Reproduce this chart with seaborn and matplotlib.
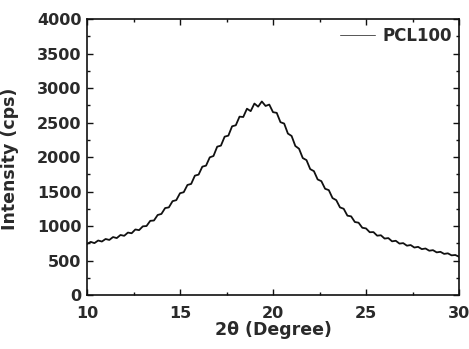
import numpy as np
import pandas as pd
import matplotlib
matplotlib.use("Agg")
import matplotlib.pyplot as plt
import seaborn as sns
from matplotlib.ticker import MultipleLocator

# --- data ---
two_theta = np.round(np.linspace(10.0, 30.0, 101), 1)
intensity = [
    740, 770, 752, 790, 775, 812, 798, 840, 825, 870,
    858, 905, 895, 950, 940, 995, 1000, 1075, 1080, 1160,
    1175, 1260, 1270, 1360, 1375, 1475, 1490, 1595, 1610, 1730,
    1745, 1860, 1875, 1995, 2015, 2150, 2165, 2295, 2310, 2445,
    2460, 2585, 2580, 2700, 2665, 2775, 2730, 2805, 2740, 2760,
    2650, 2640, 2505, 2485, 2340, 2305, 2160, 2120, 1985, 1955,
    1825, 1795, 1675, 1650, 1540, 1520, 1405, 1375, 1270, 1250,
    1150, 1140, 1058, 1048, 975, 965, 910, 912, 860, 866,
    818, 825, 778, 786, 745, 752, 715, 724, 688, 698,
    665, 674, 642, 650, 618, 626, 596, 604, 575, 580,
    555,
]
series_name = "PCL100"
x_ticks = [10, 15, 20, 25, 30]
y_ticks = [0, 500, 1000, 1500, 2000, 2500, 3000, 3500, 4000]

df = pd.DataFrame({"x": two_theta, "y": intensity, "sample": series_name})

sns.set_style("ticks")
plt.rcParams["font.family"] = ["DejaVu Sans"]

TXT = "#2a2a2a"

fig = plt.figure(figsize=(4.69, 3.49), dpi=100)
ax = fig.add_axes([0.1855, 0.1547, 0.7932, 0.7908])

sns.lineplot(data=df, x="x", y="y", hue="sample", palette=["#111111"],
             linewidth=1.3, ax=ax)

ax.set_xlim(10, 30)
ax.set_ylim(0, 4000)
ax.set_xticks(x_ticks)
ax.set_yticks(y_ticks)
ax.xaxis.set_minor_locator(MultipleLocator(2.5))
ax.yaxis.set_minor_locator(MultipleLocator(250))
ax.tick_params(which="both", direction="in", top=True, right=True,
               colors="#111111", labelcolor=TXT, labelsize=11.5, width=1.0)
ax.tick_params(which="major", length=4)
ax.tick_params(axis="x", which="major", pad=8)
ax.tick_params(axis="y", which="major", pad=4)
ax.tick_params(which="minor", length=2)
for lab in ax.get_xticklabels() + ax.get_yticklabels():
    lab.set_fontweight("bold")
for s in ax.spines.values():
    s.set_visible(True)
    s.set_linewidth(1.2)
    s.set_color("#111111")

ax.set_xlabel("2θ (Degree)", fontsize=12.5, fontweight="bold", color=TXT)
ax.set_ylabel("Intensity (cps)", fontsize=12.5, fontweight="bold", color=TXT)
ax.xaxis.set_label_coords(0.5, -0.095)
ax.yaxis.set_label_coords(-0.183, 0.495)

leg = ax.legend(loc="upper right", frameon=False,
                prop={"size": 12, "weight": "bold"},
                handlelength=2.1, handletextpad=0.4, borderaxespad=0.05)
for t in leg.get_texts():
    t.set_color(TXT)
for h in leg.get_lines():
    h.set_linewidth(0.7)
    h.set_color("#555555")

fig.savefig("out.png", dpi=100)
